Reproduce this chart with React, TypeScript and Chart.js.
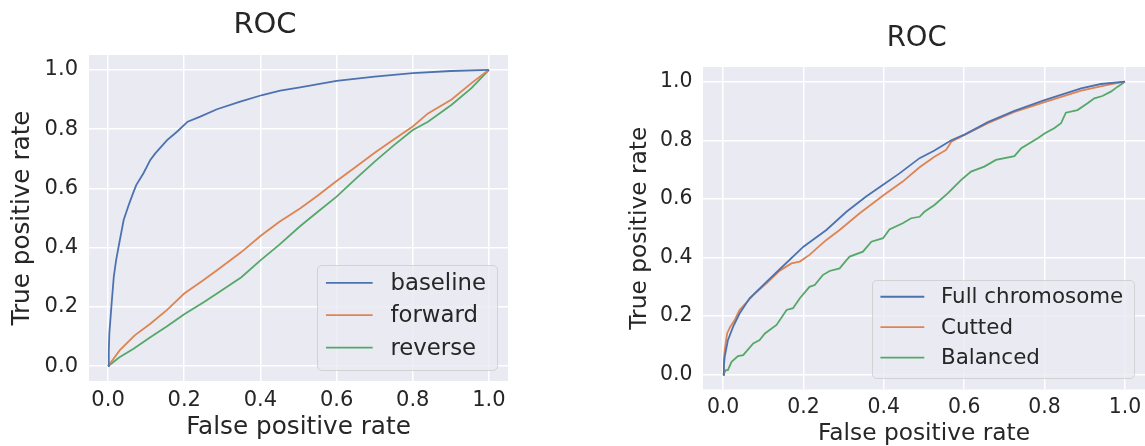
import { useEffect, useRef } from "react";
import { Chart, registerables } from "chart.js";

Chart.register(...registerables);

// ---------- data ----------
const COLORS = ["#4C72B0", "#DD8452", "#55A868"];
const chartTitle = "ROC";
const xAxisTitle = "False positive rate";
const yAxisTitle = "True positive rate";
const leftLabels = ["baseline", "forward", "reverse"];
const rightLabels = ["Full chromosome", "Cutted", "Balanced"];

const baselineFpr = [0, 0.002, 0.0034, 0.0087, 0.015, 0.021, 0.03, 0.041, 0.054, 0.067, 0.074, 0.093, 0.111, 0.124, 0.155, 0.181, 0.209, 0.242, 0.286, 0.347, 0.405, 0.452, 0.504, 0.6, 0.7, 0.8, 0.9, 1.0];
const baselineTpr = [0, 0.05, 0.11, 0.2, 0.301, 0.356, 0.419, 0.493, 0.543, 0.588, 0.611, 0.651, 0.696, 0.718, 0.763, 0.791, 0.825, 0.842, 0.867, 0.893, 0.915, 0.93, 0.941, 0.963, 0.977, 0.989, 0.996, 1.0];

const forwardFpr = [0, 0.031, 0.07, 0.111, 0.155, 0.2, 0.25, 0.286, 0.35, 0.4, 0.45, 0.504, 0.55, 0.6, 0.65, 0.7, 0.75, 0.8, 0.84, 0.902, 0.954, 1.0];
const forwardTpr = [0, 0.054, 0.104, 0.143, 0.19, 0.245, 0.29, 0.324, 0.385, 0.439, 0.487, 0.532, 0.575, 0.625, 0.672, 0.72, 0.765, 0.809, 0.853, 0.9, 0.955, 1.0];

const reverseFpr = [0, 0.03, 0.067, 0.111, 0.155, 0.2, 0.25, 0.286, 0.35, 0.4, 0.45, 0.504, 0.55, 0.6, 0.65, 0.7, 0.75, 0.8, 0.84, 0.902, 0.954, 1.0];
const reverseTpr = [0, 0.03, 0.059, 0.098, 0.135, 0.175, 0.215, 0.245, 0.3, 0.357, 0.41, 0.472, 0.52, 0.572, 0.632, 0.69, 0.745, 0.797, 0.825, 0.882, 0.938, 1.0];

const fullFpr = [0, 0.002, 0.004, 0.012, 0.025, 0.041, 0.066, 0.108, 0.141, 0.2, 0.257, 0.307, 0.356, 0.4, 0.439, 0.489, 0.526, 0.568, 0.602, 0.659, 0.725, 0.8, 0.891, 0.94, 1.0];
const fullTpr = [0, 0.03, 0.061, 0.118, 0.164, 0.209, 0.261, 0.317, 0.36, 0.437, 0.494, 0.556, 0.608, 0.65, 0.687, 0.739, 0.765, 0.8, 0.82, 0.862, 0.9, 0.937, 0.977, 0.992, 1.0];

const cuttedFpr = [0, 0.002, 0.004, 0.01, 0.018, 0.029, 0.041, 0.075, 0.108, 0.141, 0.17, 0.191, 0.215, 0.257, 0.29, 0.34, 0.4, 0.447, 0.489, 0.526, 0.555, 0.568, 0.602, 0.659, 0.725, 0.8, 0.891, 0.957, 1.0];
const cuttedTpr = [0, 0.05, 0.084, 0.141, 0.164, 0.187, 0.221, 0.272, 0.312, 0.355, 0.38, 0.386, 0.409, 0.46, 0.494, 0.551, 0.613, 0.659, 0.708, 0.744, 0.767, 0.795, 0.819, 0.858, 0.897, 0.93, 0.969, 0.989, 1.0];

const balancedFpr = [0, 0.007, 0.012, 0.021, 0.037, 0.05, 0.075, 0.091, 0.104, 0.133, 0.158, 0.174, 0.191, 0.215, 0.228, 0.248, 0.265, 0.29, 0.307, 0.315, 0.348, 0.369, 0.398, 0.414, 0.447, 0.468, 0.489, 0.501, 0.526, 0.559, 0.592, 0.617, 0.65, 0.679, 0.725, 0.742, 0.783, 0.801, 0.824, 0.841, 0.853, 0.882, 0.907, 0.924, 0.944, 0.965, 0.982, 1.0];
const balancedTpr = [0, 0.016, 0.016, 0.044, 0.064, 0.067, 0.107, 0.118, 0.141, 0.17, 0.221, 0.227, 0.261, 0.3, 0.306, 0.34, 0.354, 0.363, 0.391, 0.403, 0.42, 0.454, 0.466, 0.496, 0.517, 0.534, 0.539, 0.556, 0.579, 0.619, 0.664, 0.693, 0.71, 0.733, 0.746, 0.773, 0.807, 0.824, 0.841, 0.858, 0.894, 0.903, 0.926, 0.943, 0.951, 0.966, 0.983, 1.0];

const axisMin = -0.05;
const axisMax = 1.05;
const tickStep = 0.2;

// ---------- styling ----------
const FONT = "'DejaVu Sans', 'Liberation Sans', sans-serif";
const TEXT = "#262626";
const FACE = "#EAEAF2";

type Series = { label: string; fpr: number[]; tpr: number[]; color: string };
type PanelCfg = {
  left: number;
  width: number;
  height: number;
  area: { left: number; right: number; top: number; bottom: number };
  titleX: number;
  titleY: number;
  titleSize: number;
  tickSize: number;
  yTickPad: number;
  xTickPad: number;
  axisSize: number;
  yTitlePad: number;
  xTitlePad: number;
  legendSize: number;
  series: Series[];
};

const leftSeries: Series[] = [
  { label: leftLabels[0], fpr: baselineFpr, tpr: baselineTpr, color: COLORS[0] },
  { label: leftLabels[1], fpr: forwardFpr, tpr: forwardTpr, color: COLORS[1] },
  { label: leftLabels[2], fpr: reverseFpr, tpr: reverseTpr, color: COLORS[2] },
];
const rightSeries: Series[] = [
  { label: rightLabels[0], fpr: fullFpr, tpr: fullTpr, color: COLORS[0] },
  { label: rightLabels[1], fpr: cuttedFpr, tpr: cuttedTpr, color: COLORS[1] },
  { label: rightLabels[2], fpr: balancedFpr, tpr: balancedTpr, color: COLORS[2] },
];

const leftCfg: PanelCfg = {
  left: 0,
  width: 560,
  height: 446,
  area: { left: 89, right: 508, top: 55, bottom: 381 },
  titleX: 265,
  titleY: 33,
  titleSize: 29,
  tickSize: 21,
  yTickPad: 11,
  xTickPad: 6.5,
  axisSize: 24.7,
  yTitlePad: 9.8,
  xTitlePad: 5.8,
  legendSize: 22.8,
  series: leftSeries,
};

const rightCfg: PanelCfg = {
  left: 620,
  width: 525,
  height: 446,
  area: { left: 83, right: 525, top: 67, bottom: 389.4 },
  titleX: 296.7,
  titleY: 45.5,
  titleSize: 27.5,
  tickSize: 20.4,
  yTickPad: 10.5,
  xTickPad: 6.5,
  axisSize: 23.3,
  yTitlePad: 7.9,
  xTitlePad: 0.4,
  legendSize: 21.4,
  series: rightSeries,
};

function RocPanel({ cfg }: { cfg: PanelCfg }) {
  const ref = useRef<HTMLCanvasElement | null>(null);

  useEffect(() => {
    const canvas = ref.current;
    if (!canvas) return;

    const bgPlugin = {
      id: "bgFace",
      beforeDraw(chart: any) {
        const { ctx, chartArea: a } = chart;
        ctx.save();
        ctx.fillStyle = FACE;
        ctx.fillRect(a.left, a.top, a.right - a.left, a.bottom - a.top);
        ctx.restore();
      },
    };

    const titlePlugin = {
      id: "rocTitle",
      afterDraw(chart: any) {
        const { ctx } = chart;
        ctx.save();
        ctx.font = `${cfg.titleSize}px ${FONT}`;
        ctx.fillStyle = TEXT;
        ctx.textAlign = "center";
        ctx.textBaseline = "alphabetic";
        ctx.fillText(chartTitle, cfg.titleX, cfg.titleY);
        ctx.restore();
      },
    };

    const legendPlugin = {
      id: "rocLegend",
      afterDraw(chart: any) {
        const { ctx, chartArea: a } = chart;
        const fs = cfg.legendSize;
        const datasets = chart.data.datasets;
        ctx.save();
        ctx.font = `${fs}px ${FONT}`;
        const textW = Math.max(...datasets.map((d: any) => ctx.measureText(d.label).width));
        const boxW = 0.37 * fs + 2.05 * fs + 0.78 * fs + textW + 0.52 * fs;
        const boxH = 4.6 * fs;
        const right = a.right - 11;
        const bottom = a.bottom - 11;
        const x0 = Math.round(right - boxW) + 0.5;
        const y0 = Math.round(bottom - boxH) + 0.5;
        ctx.beginPath();
        ctx.roundRect(x0, y0, Math.round(boxW), Math.round(boxH), 0.2 * fs);
        ctx.fillStyle = "rgba(234,234,242,0.8)";
        ctx.fill();
        ctx.strokeStyle = "rgba(204,204,204,0.8)";
        ctx.lineWidth = 1;
        ctx.stroke();
        datasets.forEach((d: any, i: number) => {
          const y = y0 + 0.76 * fs + i * 1.42 * fs;
          ctx.strokeStyle = d.borderColor;
          ctx.lineWidth = 1.8;
          ctx.beginPath();
          ctx.moveTo(x0 + 0.37 * fs, y);
          ctx.lineTo(x0 + 2.42 * fs, y);
          ctx.stroke();
          ctx.fillStyle = TEXT;
          ctx.textAlign = "left";
          ctx.textBaseline = "middle";
          ctx.fillText(d.label, x0 + 3.2 * fs, y + 1);
        });
        ctx.restore();
      },
    };

    const fmt = (v: any) => Number(v).toFixed(1);

    const chart = new Chart(canvas, {
      type: "line",
      data: {
        datasets: cfg.series.map((s) => ({
          label: s.label,
          data: s.fpr.map((x, i) => ({ x, y: s.tpr[i] })),
          borderColor: s.color,
          backgroundColor: s.color,
          borderWidth: 1.8,
          pointRadius: 0,
          tension: 0,
          fill: false,
        })),
      },
      options: {
        animation: false,
        responsive: false,
        devicePixelRatio: 1,
        layout: {
          padding: {
            left: 0,
            top: cfg.area.top,
            right: cfg.width - cfg.area.right,
            bottom: 0,
          },
        },
        plugins: {
          legend: { display: false },
          tooltip: { enabled: false },
          title: { display: false },
        },
        scales: {
          x: {
            type: "linear",
            min: axisMin,
            max: axisMax,
            afterFit: (s: any) => {
              s.height = cfg.height - cfg.area.bottom;
              s.paddingLeft = 0;
              s.paddingRight = 0;
            },
            border: { display: false },
            grid: { color: "#ffffff", lineWidth: 1.5, drawTicks: false },
            ticks: {
              stepSize: tickStep,
              includeBounds: false,
              padding: cfg.xTickPad,
              color: TEXT,
              font: { family: FONT, size: cfg.tickSize },
              maxRotation: 0,
              autoSkip: false,
              callback: fmt,
            },
            title: {
              display: true,
              text: xAxisTitle,
              color: TEXT,
              font: { family: FONT, size: cfg.axisSize, lineHeight: 1 },
              padding: { top: 0, bottom: cfg.xTitlePad },
            },
          },
          y: {
            type: "linear",
            min: axisMin,
            max: axisMax,
            afterFit: (s: any) => {
              s.width = cfg.area.left;
              s.paddingTop = 0;
              s.paddingBottom = 0;
            },
            border: { display: false },
            grid: { color: "#ffffff", lineWidth: 1.5, drawTicks: false },
            ticks: {
              stepSize: tickStep,
              includeBounds: false,
              padding: cfg.yTickPad,
              color: TEXT,
              font: { family: FONT, size: cfg.tickSize },
              autoSkip: false,
              callback: fmt,
            },
            title: {
              display: true,
              text: yAxisTitle,
              color: TEXT,
              font: { family: FONT, size: cfg.axisSize, lineHeight: 1 },
              padding: { top: cfg.yTitlePad, bottom: 0 },
            },
          },
        },
      } as any,
      plugins: [bgPlugin, titlePlugin, legendPlugin],
    });

    return () => {
      chart.destroy();
    };
  }, [cfg]);

  return (
    <canvas
      ref={ref}
      width={cfg.width}
      height={cfg.height}
      style={{
        position: "absolute",
        left: cfg.left,
        top: 0,
        width: cfg.width,
        height: cfg.height,
      }}
    />
  );
}

export default function App() {
  return (
    <div
      style={{
        position: "fixed",
        left: 0,
        top: 0,
        width: 1145,
        height: 446,
        overflow: "hidden",
        background: "#ffffff",
      }}
    >
      <RocPanel cfg={leftCfg} />
      <RocPanel cfg={rightCfg} />
    </div>
  );
}
